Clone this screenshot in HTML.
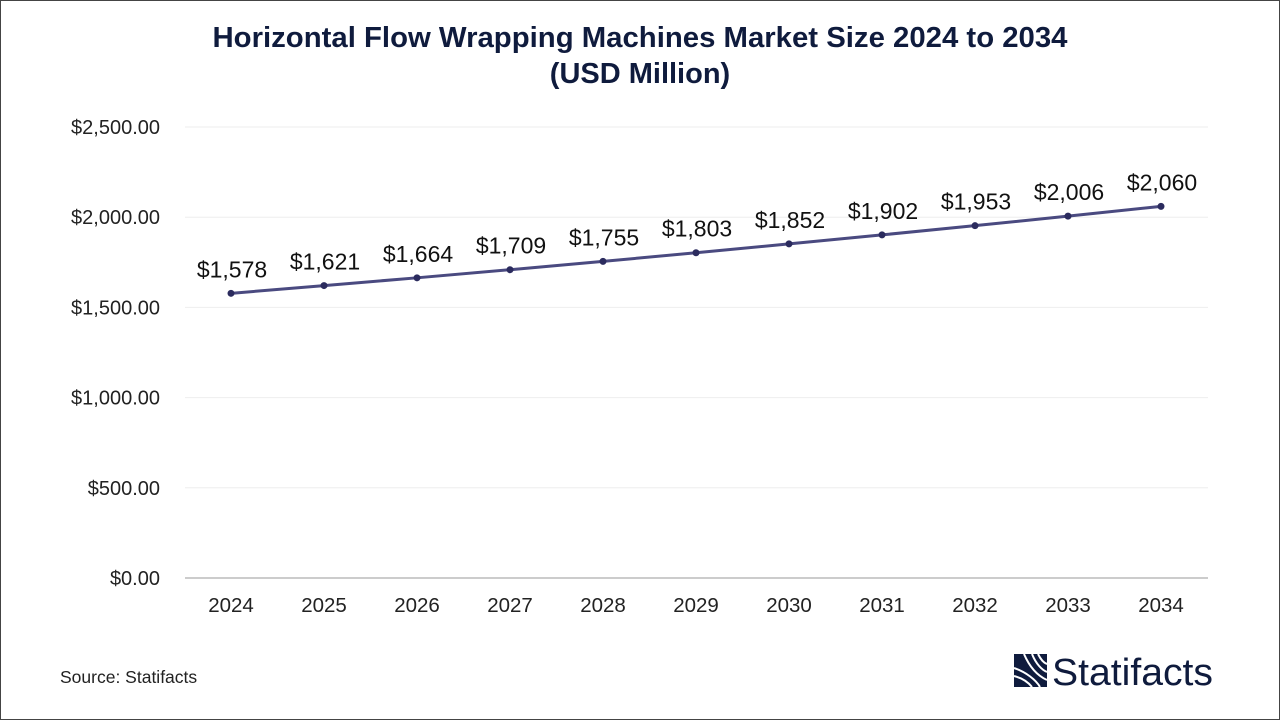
<!DOCTYPE html>
<html><head><meta charset="utf-8"><style>
body{margin:0;width:1280px;height:720px;background:#fff;font-family:"Liberation Sans",sans-serif;overflow:hidden}
#frame{position:absolute;left:0;top:0;width:1278px;height:718px;border:1px solid #444}
</style></head><body>
<div id="frame"></div>
<svg id="chart" width="1280" height="720" style="position:absolute;left:0;top:0">
<text x="640" y="47" text-anchor="middle" font-size="29" font-weight="bold" fill="#0f1b3d" textLength="855" lengthAdjust="spacingAndGlyphs">Horizontal Flow Wrapping Machines Market Size 2024 to 2034</text>
<text x="640" y="83" text-anchor="middle" font-size="29" font-weight="bold" fill="#0f1b3d">(USD Million)</text>
<g id="grid"></g><g id="ylab"></g><g id="xlab"></g><g id="series"></g><g id="vals"></g>
<text x="60" y="683" font-size="17.5" fill="#222">Source: Statifacts</text>
<g>
<rect x="1014" y="654" width="33" height="33" fill="#0f1b3d"/>
<path d="M1024 654 C1030 668 1038 676 1047 680 M1032 654 C1036 664 1042 670 1047 672 M1038 654 C1041 660 1044 663 1047 664 M1014 668 C1026 672 1036 680 1040 687 M1014 676 C1022 678 1028 682 1032 687" stroke="#fff" stroke-width="2" fill="none"/>
<text x="1052" y="685" font-size="38" fill="#0f1b3d" textLength="161" lengthAdjust="spacingAndGlyphs">Statifacts</text>
</g>
</svg>
<script>
const years=["2024","2025","2026","2027","2028","2029","2030","2031","2032","2033","2034"];
const values=[1578,1621,1664,1709,1755,1803,1852,1902,1953,2006,2060];
const valueLabels=["$1,578","$1,621","$1,664","$1,709","$1,755","$1,803","$1,852","$1,902","$1,953","$2,006","$2,060"];
const yTicks=[0,500,1000,1500,2000,2500];
const yTickLabels=["$0.00","$500.00","$1,000.00","$1,500.00","$2,000.00","$2,500.00"];
const NS="http://www.w3.org/2000/svg";
const y=v=>578-v*(451/2500);
const x=i=>231+i*93;
function mk(p,t,a,txt){const e=document.createElementNS(NS,t);for(const k in a)e.setAttribute(k,a[k]);if(txt!==undefined)e.textContent=txt;document.getElementById(p).appendChild(e);return e;}
yTicks.forEach((v,i)=>{
 const l=mk("grid","line",{x1:185,x2:1208,y1:y(v),y2:y(v),stroke:i==0?"#bbb":"#eee","stroke-width":i==0?1.5:1});
 
 
 const t=mk("ylab","text",{x:160,y:y(v)+7,"text-anchor":"end","font-size":20,fill:"#222"},yTickLabels[i]);
 
 
});
years.forEach((yr,i)=>{
 const t=mk("xlab","text",{x:x(i),y:612,"text-anchor":"middle","font-size":20.5,fill:"#222"},yr);
 
 
});
const pl=mk("series","polyline",{points:values.map((v,i)=>x(i)+","+y(v)).join(" "),fill:"none",stroke:"#4a4a80","stroke-width":3});


values.forEach((v,i)=>{
 const c=mk("series","circle",{cx:x(i),cy:y(v),r:3.5,fill:"#2b2b5e"});
 
 
 const t=mk("vals","text",{x:x(i)+1,y:y(v)-16,"text-anchor":"middle","font-size":23,fill:"#111"},valueLabels[i]);
 
 
});
</script>
</body></html>
